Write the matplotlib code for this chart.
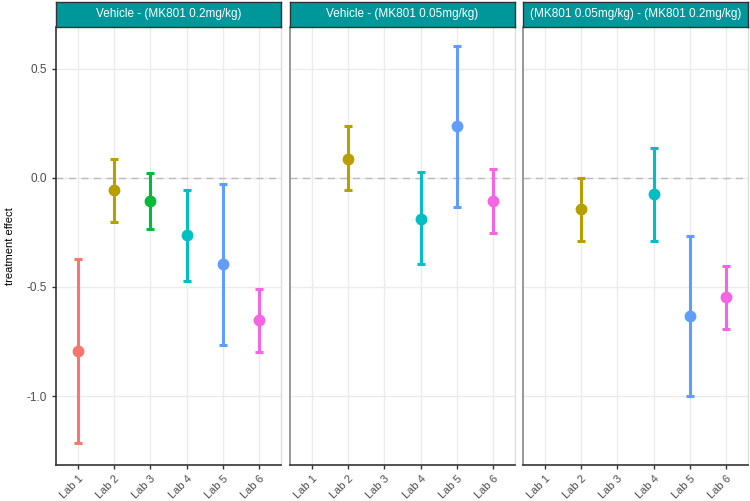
import matplotlib
matplotlib.use("Agg")
import matplotlib.pyplot as plt
import numpy as np

plt.rcParams['font.family'] = ['Liberation Sans', 'DejaVu Sans']

labs = ["Lab 1", "Lab 2", "Lab 3", "Lab 4", "Lab 5", "Lab 6"]
colors = ["#F8766D", "#B79F00", "#00BA38", "#00BFC4", "#619CFF", "#F564E3"]
panels = ["Vehicle - (MK801 0.2mg/kg)", "Vehicle - (MK801 0.05mg/kg)",
          "(MK801 0.05mg/kg) - (MK801 0.2mg/kg)"]

# per panel: lab index, estimate, lower, upper
p1_lab = [0, 1, 2, 3, 4, 5]
p1_est = [-0.793, -0.058, -0.106, -0.264, -0.397, -0.653]
p1_lo = [-1.214, -0.202, -0.235, -0.471, -0.765, -0.797]
p1_hi = [-0.371, 0.088, 0.023, -0.056, -0.027, -0.508]

p2_lab = [1, 3, 4, 5]
p2_est = [0.088, -0.187, 0.238, -0.106]
p2_lo = [-0.056, -0.397, -0.133, -0.251]
p2_hi = [0.235, 0.027, 0.603, 0.038]

p3_lab = [1, 3, 4, 5]
p3_est = [-0.145, -0.076, -0.634, -0.545]
p3_lo = [-0.291, -0.290, -1.000, -0.691]
p3_hi = [0.000, 0.137, -0.265, -0.402]

data = [(p1_lab, p1_est, p1_lo, p1_hi), (p2_lab, p2_est, p2_lo, p2_hi),
        (p3_lab, p3_est, p3_lo, p3_hi)]

W, H = 750, 501
fig = plt.figure(figsize=(7.5, 5.01), dpi=100)
xs = [(56, 281), (290, 515), (523, 748)]
top, bottom = 27, 465
strip_top = 2
ylim = (-1.315, 0.69)
teal = "#00979B"

for i, ((x0, x1), (lab, est, lo, hi), title) in enumerate(zip(xs, data, panels)):
    ax = fig.add_axes([x0 / W, 1 - bottom / H, (x1 - x0) / W, (bottom - top) / H])
    ax.set_xlim(0.4, 6.6)
    ax.set_ylim(*ylim)
    ax.set_xticks(range(1, 7))
    ax.set_yticks([-1.0, -0.5, 0.0, 0.5])
    ax.grid(True, color="#EBEBEB", linewidth=1.0, zorder=0)
    ax.set_axisbelow(True)
    ax.axhline(0, color="#BBBBBB", linestyle=(0, (5, 4)), linewidth=1.0, zorder=1)
    for l, e, a, b in zip(lab, est, lo, hi):
        ax.errorbar([l + 1], [e], yerr=[[e - a], [b - e]], fmt="o", color=colors[l],
                    markersize=7.5, elinewidth=2.2, capsize=3.2, capthick=2.2, zorder=3)
    ax.set_xticklabels(labs, rotation=45, ha="right", rotation_mode="anchor",
                       fontsize=8, color="#4D4D4D")
    if i == 0:
        ax.set_yticklabels(["-1.0", "-0.5", "0.0", "0.5"], fontsize=8.5, color="#4D4D4D")
        ax.set_ylabel("treatment effect", fontsize=8, color="black", labelpad=8)
    else:
        ax.set_yticklabels([])
    ax.tick_params(axis="both", length=3, width=1, color="#333333")
    ax.tick_params(axis="y", left=(i == 0))
    for s in ["left", "bottom"]:
        ax.spines[s].set_color("#333333")
        ax.spines[s].set_linewidth(1.2)
    ax.spines["top"].set_visible(False)
    ax.spines["right"].set_color("#DDDDDD")
    ax.spines["right"].set_linewidth(1.0)
    if i > 0:
        ax.spines["left"].set_color("#888888")
    # strip
    sax = fig.add_axes([x0 / W, 1 - top / H, (x1 - x0) / W, (top - strip_top) / H])
    sax.set_xticks([]); sax.set_yticks([])
    sax.set_facecolor(teal)
    for s in sax.spines.values():
        s.set_color("#333333"); s.set_linewidth(1.0)
    sax.text(0.5, 0.5, title, ha="center", va="center", color="white", fontsize=8.5,
             transform=sax.transAxes)

fig.savefig("out.png", dpi=100)
